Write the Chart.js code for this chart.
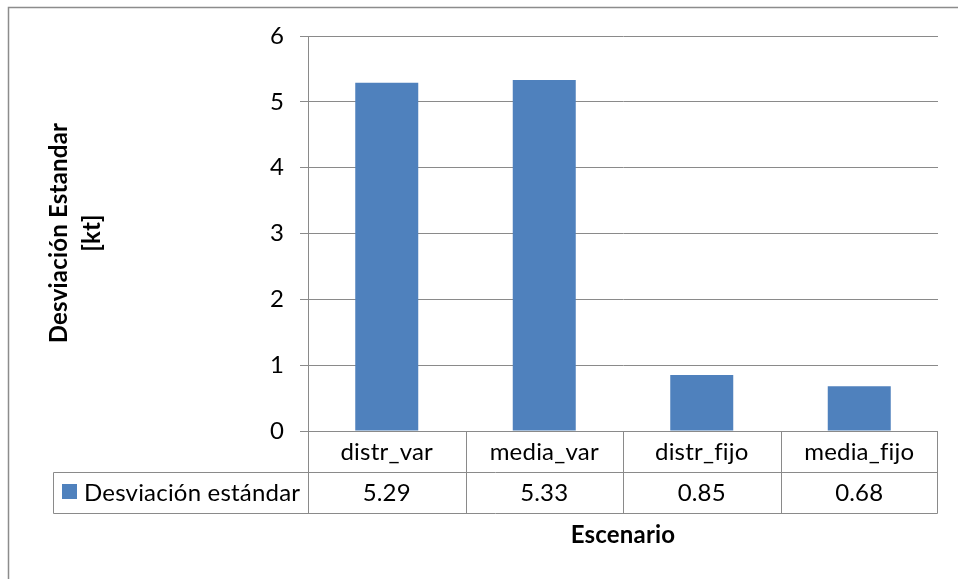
<!DOCTYPE html>
<html>
<head>
<meta charset="utf-8">
<script src="https://cdn.jsdelivr.net/npm/chart.js@4/dist/chart.umd.min.js"></script>
<style>
  html, body { margin: 0; padding: 0; background: #ffffff; }
  #wrap { width: 958px; height: 579px; }
</style>
</head>
<body>
<div id="wrap"><canvas id="c" width="958" height="579"></canvas></div>
<script>
// Standard deviation of speed per scenario
const categories = ['distr_var', 'media_var', 'distr_fijo', 'media_fijo'];
const seriesName = 'Desviación estándar';
const stdValues = [5.29, 5.33, 0.85, 0.68];
const yTickValues = [0, 1, 2, 3, 4, 5, 6];
const yTitleLines = ['Desviación Estandar', '[kt]'];
const xTitleText = 'Escenario';

const FONT = 'Lato, "Open Sans", sans-serif';
const BAR = '#4F81BD';
const GRID = '#8a8a8a';
const FRAME = '#8c8c8c';

// Excel-style data table, outer frame and axis titles
const tablePlugin = {
  id: 'dataTable',
  afterDraw(chart) {
    const ctx = chart.ctx;
    const xs = chart.scales.x;
    const ys = chart.scales.y;
    const area = chart.chartArea;
    const top = Math.round(ys.getPixelForValue(0)) + 0.5;
    const rowH = 40.5;
    const row1 = top + rowH;
    const row2 = Math.round(top + 2 * rowH) + 0.5;
    const legLeft = 53.5;
    const left = Math.round(area.left) + 0.5;
    const right = Math.round(area.right) - 0.5;
    const n = categories.length;

    ctx.save();
    // outer chart frame
    ctx.strokeStyle = FRAME;
    ctx.lineWidth = 1.5;
    ctx.strokeRect(8.5, 7.5, 1200, 1200);

    // table grid
    ctx.strokeStyle = GRID;
    ctx.lineWidth = 1;
    ctx.beginPath();
    ctx.moveTo(left, top); ctx.lineTo(right, top);
    ctx.moveTo(legLeft, Math.round(row1) + 0.5); ctx.lineTo(right, Math.round(row1) + 0.5);
    ctx.moveTo(legLeft, row2); ctx.lineTo(right, row2);
    ctx.moveTo(legLeft, Math.round(row1) + 0.5); ctx.lineTo(legLeft, row2);
    for (let i = 0; i <= n; i++) {
      let bx;
      if (i === 0) bx = area.left;
      else if (i === n) bx = area.right - 1;
      else bx = (xs.getPixelForValue(i - 1) + xs.getPixelForValue(i)) / 2;
      const px = Math.round(bx) + 0.5;
      ctx.moveTo(px, top); ctx.lineTo(px, row2);
    }
    ctx.stroke();

    // category names and values (letter spacing keeps "fi" unligated)
    ctx.letterSpacing = '0.2px';
    ctx.fillStyle = '#000000';
    ctx.font = '24px ' + FONT;
    ctx.textAlign = 'center';
    ctx.textBaseline = 'middle';
    for (let i = 0; i < n; i++) {
      const cx = xs.getPixelForValue(i);
      ctx.fillText(categories[i], cx, top + rowH / 2 + 1);
      ctx.fillText(stdValues[i].toFixed(2), cx, row1 + rowH / 2 + 1);
    }

    // legend key in the table
    ctx.fillStyle = BAR;
    ctx.fillRect(62, row1 + 12, 15, 15);
    ctx.fillStyle = '#000000';
    ctx.textAlign = 'left';
    ctx.fillText(seriesName, 84, row1 + rowH / 2 + 1);

    // axis titles
    ctx.font = 'bold 24px ' + FONT;
    ctx.textAlign = 'center';
    ctx.fillText(xTitleText, (area.left + area.right) / 2, 535);

    const midY = 233;
    ctx.translate(0, midY);
    ctx.rotate(-Math.PI / 2);
    ctx.fillText(yTitleLines[0], 0, 59);
    ctx.fillText(yTitleLines[1], 0, 92);
    ctx.restore();
  }
};

new Chart(document.getElementById('c'), {
  type: 'bar',
  data: {
    labels: categories,
    datasets: [{
      label: seriesName,
      data: stdValues,
      backgroundColor: BAR,
      borderWidth: 0,
      barPercentage: 0.4,
      categoryPercentage: 1.0
    }]
  },
  options: {
    responsive: false,
    devicePixelRatio: 1,
    animation: false,
    layout: { padding: { top: 36, right: 20, left: 0, bottom: 0 } },
    plugins: {
      legend: { display: false },
      tooltip: { enabled: false },
      title: { display: false }
    },
    scales: {
      x: {
        grid: { display: false, drawTicks: false },
        border: { display: false },
        ticks: { display: false },
        afterFit(scale) { scale.height = 148; }
      },
      y: {
        min: 0,
        max: 6,
        afterBuildTicks(scale) { scale.ticks = yTickValues.map(v => ({ value: v })); },
        grid: { color: GRID, lineWidth: 1, tickLength: 8, drawTicks: true },
        border: { display: true, color: GRID, width: 1 },
        ticks: {
          color: '#000000',
          font: { family: FONT, size: 24 },
          padding: 16
        },
        afterFit(scale) { scale.width = 308; }
      }
    }
  },
  plugins: [tablePlugin]
});
</script>
</body>
</html>
